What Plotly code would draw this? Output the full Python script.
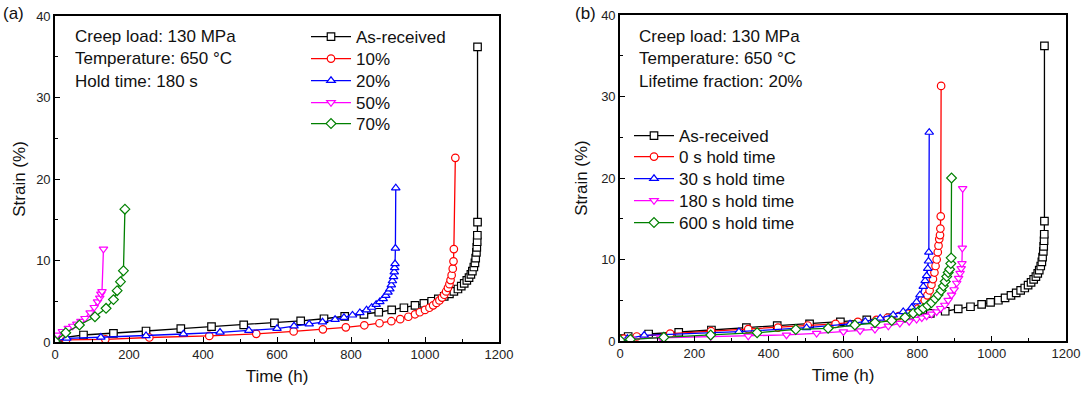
import plotly.graph_objects as go

# ---------------- data (Time h, Strain %) ----------------
# shared As-received curve
ar_t = [0, 22, 77, 158, 246, 340, 423, 510, 593, 664, 727, 783, 835, 875, 910, 943, 973, 997,
        1018, 1036, 1052, 1066, 1078, 1089, 1098, 1106, 1113, 1119, 1124, 1128, 1132, 1135,
        1137, 1139, 1140, 1141, 1141.5, 1142, 1142]
ar_s = [0.3, 0.55, 0.86, 1.07, 1.35, 1.65, 1.88, 2.1, 2.35, 2.6, 2.85, 3.15, 3.4, 3.65, 3.95,
        4.2, 4.5, 4.75, 5.0, 5.3, 5.6, 5.9, 6.2, 6.5, 6.85, 7.2, 7.55, 7.9, 8.3, 8.7, 9.2, 9.7,
        10.3, 11.0, 11.6, 12.3, 13.1, 14.7, 36.2]

# panel (a): lifetime fraction series (hold time 180 s)
a10_t = [0, 30, 136, 255, 417, 544, 645, 724, 786, 836, 877, 909, 933, 955, 973, 986, 1000,
         1012, 1022, 1031, 1039, 1046, 1052, 1057, 1062, 1066, 1069, 1072, 1075, 1077, 1078, 1082]
a10_s = [0.1, 0.25, 0.33, 0.55, 0.75, 1.0, 1.3, 1.55, 1.8, 2.05, 2.3, 2.55, 2.8, 3.1, 3.4,
         3.65, 3.93, 4.2, 4.5, 4.8, 5.1, 5.45, 5.8, 6.2, 6.65, 7.1, 7.6, 8.2, 9.0, 9.9, 11.4, 22.6]

a20_t = [0, 32, 124, 246, 347, 446, 524, 600, 646, 687, 723, 757, 781, 804, 824, 842, 856,
         868, 878, 887, 894, 900, 905, 909, 912, 915, 917, 918, 919, 920, 921]
a20_s = [0.1, 0.45, 0.58, 0.77, 0.98, 1.19, 1.42, 1.65, 1.96, 2.2, 2.45, 2.75, 3.0, 3.3, 3.6,
         3.93, 4.25, 4.6, 4.95, 5.3, 5.7, 6.1, 6.5, 7.0, 7.5, 8.0, 8.6, 9.1, 9.6, 11.5, 18.9]

a50_t = [0, 6, 20, 36, 48, 59, 70, 81, 95, 106, 115, 121, 124, 127, 131]
a50_s = [0.1, 0.86, 1.3, 1.68, 1.95, 2.2, 2.55, 2.9, 3.6, 4.25, 4.95, 5.4, 5.9, 6.2, 11.4]

a70_t = [0, 29, 66, 108, 138, 158, 168, 177, 185, 189]
a70_s = [0.1, 1.14, 2.09, 3.1, 4.13, 5.2, 6.3, 7.4, 8.75, 16.3]

# panel (b): hold-time series (lifetime fraction 20%)
b0_t = [0, 10, 45, 135, 245, 345, 425, 505, 580, 640, 690, 720, 750, 775, 790, 802, 812, 820,
        827, 833, 838, 842, 846, 849, 852, 855, 857, 859, 861, 862, 863, 864]
b0_s = [0.1, 0.3, 0.55, 0.9, 1.2, 1.45, 1.65, 1.9, 2.1, 2.35, 2.6, 2.85, 3.05, 3.35, 3.65, 4.0,
        4.5, 5.0, 5.6, 6.2, 6.9, 7.6, 8.4, 9.2, 10.0, 10.9, 11.7, 12.5, 13.0, 13.8, 15.3, 31.3]

b30_t = [0, 20, 65, 320, 502, 619, 660, 700, 735, 762, 785, 798, 807, 816, 821, 825, 828, 830,
         831, 832]
b30_s = [0.1, 0.3, 0.7, 1.15, 1.63, 2.09, 2.4, 2.8, 3.2, 3.6, 4.1, 4.8, 5.65, 6.7, 7.4, 8.0, 8.9,
         9.8, 10.9, 25.6]

b180_t = [0, 30, 110, 244, 345, 448, 529, 601, 646, 686, 722, 753, 778, 798, 812, 825, 838, 852,
          863, 874, 883, 892, 899, 906, 911, 915, 918, 920, 921, 922]
b180_s = [0.1, 0.25, 0.4, 0.53, 0.61, 0.74, 0.94, 1.14, 1.26, 1.43, 1.84, 2.17, 2.4, 2.66, 2.85,
          3.07, 3.3, 3.6, 4.0, 4.4, 5.0, 5.65, 6.3, 7.1, 7.7, 8.3, 8.9, 9.5, 11.4, 18.7]

b600_t = [0, 28, 118, 244, 369, 473, 560, 632, 686, 731, 767, 789, 805, 816, 828, 838, 848, 856,
          864, 870, 875, 879, 883, 887, 890, 891, 892]
b600_s = [0.1, 0.2, 0.45, 0.74, 1.02, 1.42, 1.56, 1.96, 2.25, 2.5, 2.9, 3.4, 3.7, 4.0, 4.35, 4.7,
          5.2, 5.65, 6.2, 6.75, 7.3, 7.9, 8.4, 8.8, 9.5, 10.2, 20.0]

names_a = ["As-received", "10%", "20%", "50%", "70%"]
names_b = ["As-received", "0 s hold time", "30 s hold time", "180 s hold time", "600 s hold time"]
colors = ["#000000", "#FF0000", "#0000FF", "#FF00FF", "#008000"]
symbols = ["square", "circle", "triangle-up", "triangle-down", "diamond"]

FONT = "Arial, Liberation Sans, sans-serif"
W, H = 1088, 394

fig = go.Figure()

series_a = [(ar_t, ar_s), (a10_t, a10_s), (a20_t, a20_s), (a50_t, a50_s), (a70_t, a70_s)]
series_b = [(ar_t, ar_s), (b0_t, b0_s), (b30_t, b30_s), (b180_t, b180_s), (b600_t, b600_s)]

# one single-entry legend per row so that row spacing matches the original
rows_a = [37, 59, 81, 103, 124]
rows_b = [136, 157, 179, 201, 223]
legend_layout = {}
lg_idx = 1

def add_series(series, names, xa, ya, rows, lx):
    global lg_idx
    for i, (t, s) in enumerate(series):
        key = "legend" if lg_idx == 1 else f"legend{lg_idx}"
        fig.add_trace(go.Scatter(
            x=t, y=s, mode="lines+markers", name=names[i],
            line=dict(color=colors[i], width=1.3),
            marker=dict(symbol=symbols[i], size=7.5, color="white",
                        line=dict(color=colors[i], width=1.2)),
            xaxis=xa, yaxis=ya, legend=key))
        legend_layout[key] = dict(
            x=lx / W, y=1 - rows[i] / H, xanchor="left", yanchor="middle",
            bgcolor="rgba(0,0,0,0)", borderwidth=0,
            font=dict(family=FONT, size=17, color="#111"),
            itemwidth=40, tracegroupgap=0)
        lg_idx += 1

add_series(series_a, names_a, "x", "y", rows_a, 306)
add_series(series_b, names_b, "x2", "y2", rows_b, 629)

def ax_common():
    return dict(showline=True, linecolor="black", linewidth=1.6, mirror=True,
                ticks="inside", ticklen=5, tickwidth=1.3, tickcolor="black",
                showgrid=False, zeroline=False, automargin=False,
                tickfont=dict(family=FONT, size=13, color="#222"),
                title_font=dict(family=FONT, size=17, color="#111"))

xa = ax_common(); xa.update(range=[0, 1200], dtick=200, tick0=0,
                            minor=dict(ticks="inside", ticklen=3, dtick=100, tickcolor="black"))
ya = ax_common(); ya.update(range=[0, 40], dtick=10, tick0=0,
                            minor=dict(ticks="inside", ticklen=3, dtick=5, tickcolor="black"))

fig.update_layout(
    width=W, height=H, margin=dict(l=0, r=0, t=0, b=0, autoexpand=False),
    paper_bgcolor="white", plot_bgcolor="white",
    xaxis=dict(xa, domain=[55 / W, 499 / W], anchor="y",
               title=dict(text="Time (h)", standoff=9)),
    yaxis=dict(ya, domain=[1 - 342 / H, 1 - 16 / H], anchor="x",
               title=dict(text="Strain (%)", standoff=6)),
    xaxis2=dict(xa, domain=[620 / W, 1066 / W], anchor="y2",
                title=dict(text="Time (h)", standoff=9)),
    yaxis2=dict(ya, domain=[1 - 341 / H, 1 - 15 / H], anchor="x2",
                title=dict(text="Strain (%)", standoff=9)),
    showlegend=True,
    **legend_layout,
)

ann_font = dict(family=FONT, size=17, color="#111")
texts_a = ["Creep load: 130 MPa", "Temperature: 650 \u00b0C", "Hold time: 180 s"]
texts_b = ["Creep load: 130 MPa", "Temperature: 650 \u00b0C", "Lifetime fraction: 20%"]
rows = [36, 59, 81]
for txt, yy in zip(texts_a, rows):
    fig.add_annotation(text=txt, x=73 / W, y=1 - yy / H, xref="paper", yref="paper",
                       xanchor="left", yanchor="middle", showarrow=False, font=ann_font)
for txt, yy in zip(texts_b, rows):
    fig.add_annotation(text=txt, x=637 / W, y=1 - yy / H, xref="paper", yref="paper",
                       xanchor="left", yanchor="middle", showarrow=False, font=ann_font)

fig.add_annotation(text="(a)", x=1 / W, y=1 - 14 / H, xref="paper", yref="paper",
                   xanchor="left", yanchor="middle", showarrow=False, font=ann_font)
fig.add_annotation(text="(b)", x=573 / W, y=1 - 14 / H, xref="paper", yref="paper",
                   xanchor="left", yanchor="middle", showarrow=False, font=ann_font)

fig.write_html("out.html")
